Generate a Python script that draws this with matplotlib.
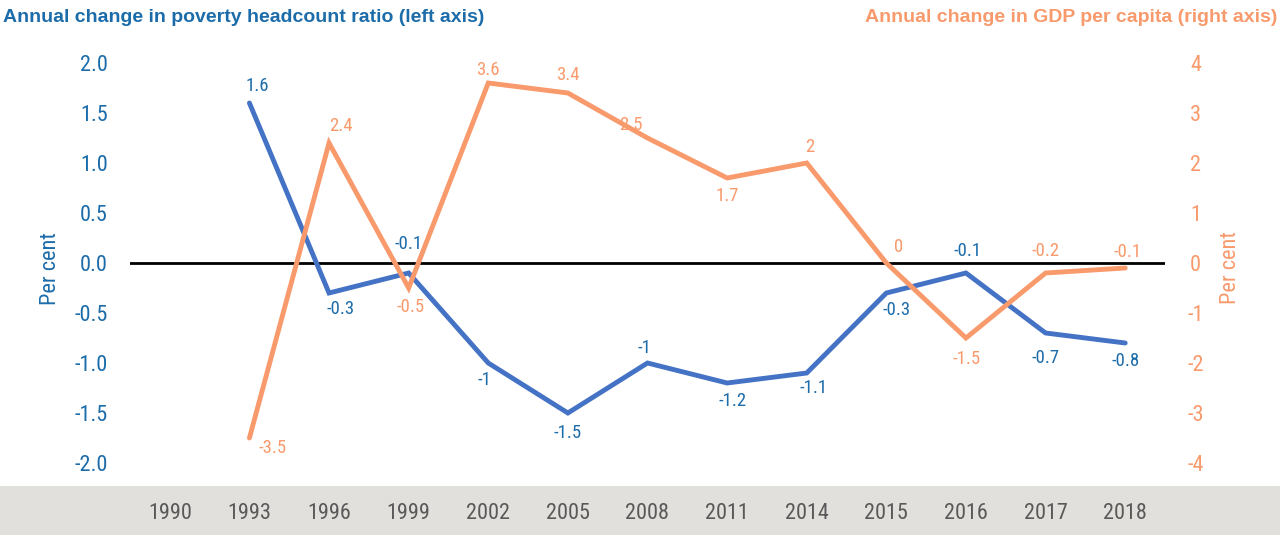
import matplotlib
matplotlib.use("Agg")
import matplotlib.pyplot as plt
from matplotlib.patches import Rectangle
from matplotlib import font_manager

years = ["1990", "1993", "1996", "1999", "2002", "2005", "2008", "2011", "2014", "2015", "2016", "2017", "2018"]
poverty = [None, 1.6, -0.3, -0.1, -1.0, -1.5, -1.0, -1.2, -1.1, -0.3, -0.1, -0.7, -0.8]
poverty_labels = ["", "1.6", "-0.3", "-0.1", "-1", "-1.5", "-1", "-1.2", "-1.1", "-0.3", "-0.1", "-0.7", "-0.8"]
gdp = [None, -3.5, 2.4, -0.5, 3.6, 3.4, 2.5, 1.7, 2.0, 0.0, -1.5, -0.2, -0.1]
gdp_labels = ["", "-3.5", "2.4", "-0.5", "3.6", "3.4", "2.5", "1.7", "2", "0", "-1.5", "-0.2", "-0.1"]
left_ticks = [-2.0, -1.5, -1.0, -0.5, 0.0, 0.5, 1.0, 1.5, 2.0]
right_ticks = [-4, -3, -2, -1, 0, 1, 2, 3, 4]

BLUE = "#4472C4"
BLUE_TXT = "#1C6CAA"
ORANGE = "#F89A6C"
ORANGE_TXT = "#F89A6C"
GREY_BG = "#E1E0DC"
GREY_TXT = "#595959"

available = {f.name for f in font_manager.fontManager.ttflist}
narrow_choice = "Liberation Sans"
for cand in ["Liberation Sans Narrow", "Arial Narrow", "Roboto Condensed", "Open Sans Condensed"]:
    if cand in available:
        narrow_choice = cand
        break
NARROW = [narrow_choice, "DejaVu Sans"]
BOLD = ["Liberation Sans", "DejaVu Sans"]
is_narrow = narrow_choice != "Liberation Sans"
TICK_FS = 16 if is_narrow else 14.5
LAB_FS = 13.5 if is_narrow else 12.5

W, H = 1280, 535
fig = plt.figure(figsize=(W / 100, H / 100), dpi=100)
fig.patches.append(Rectangle((0, 0), 1, 49 / H, transform=fig.transFigure,
                             facecolor=GREY_BG, edgecolor="none", zorder=-10))

ax = fig.add_axes([130 / W, (H - 463) / H, 1035 / W, 400 / H])
ax.set_facecolor("none")
ax2 = ax.twinx()
ax2.set_facecolor("none")

x = list(range(len(years)))
px = [i for i, v in zip(x, poverty) if v is not None]
pv = [v for v in poverty if v is not None]
gx = [i for i, v in zip(x, gdp) if v is not None]
gv = [v for v in gdp if v is not None]

ax.axhline(0, color="black", lw=2, zorder=1)
ax.plot(px, pv, color=BLUE, lw=3.5, zorder=3, clip_on=False,
        solid_joinstyle="miter", solid_capstyle="round")
ax2.plot(gx, gv, color=ORANGE, lw=3.5, zorder=3, clip_on=False,
         solid_joinstyle="miter", solid_capstyle="round")

ax.set_xlim(-0.5, len(years) - 0.5)
ax.set_ylim(-2, 2)
ax2.set_ylim(-4, 4)

for a in (ax, ax2):
    for s in a.spines.values():
        s.set_visible(False)

ax.set_xticks(x)
ax.set_xticklabels(years, fontfamily=NARROW, fontsize=TICK_FS, color=GREY_TXT)
ax.tick_params(axis="x", length=0, pad=29)
ax.set_yticks(left_ticks)
ax.set_yticklabels([f"{t:.1f}" for t in left_ticks], fontfamily=NARROW, fontsize=TICK_FS, color=BLUE_TXT)
ax.tick_params(axis="y", length=0, pad=16)
ax2.set_yticks(right_ticks)
ax2.set_yticklabels([str(t) for t in right_ticks], fontfamily=NARROW, fontsize=TICK_FS, color=ORANGE_TXT)
ax2.tick_params(axis="y", length=0, pad=22)
for lab in ax2.get_yticklabels():
    lab.set_ha("center")

fig.text(51 / W, 1 - 269 / H, "Per cent", rotation=90, ha="center", va="center",
         fontfamily=NARROW, fontsize=TICK_FS, color=BLUE_TXT)
fig.text(1231 / W, 1 - 268 / H, "Per cent", rotation=90, ha="center", va="center",
         fontfamily=NARROW, fontsize=TICK_FS, color=ORANGE_TXT)

# data labels: offsets in points (dx, dy)
p_off = [None, (6, 12), (8, -11.5), (0, 21), (-3, -12), (0, -14.5), (-2, 11), (4, -13), (5, -11),
         (7, -12), (1.5, 16), (0, -18), (0, -13)]
g_off = [None, (16.5, -7), (8.5, 12), (1.5, -13.5), (0, 9.5), (0, 13), (-12, 9.5), (0, -13), (2, 11.5),
         (8.5, 11.5), (0.5, -15), (0, 16), (1.5, 11.5)]
for i, (v, lab, off) in enumerate(zip(poverty, poverty_labels, p_off)):
    if v is None:
        continue
    ax.annotate(lab, (i, v), xytext=off, textcoords="offset points", ha="center", va="center",
                fontfamily=NARROW, fontsize=LAB_FS, color=BLUE_TXT, annotation_clip=False)
for i, (v, lab, off) in enumerate(zip(gdp, gdp_labels, g_off)):
    if v is None:
        continue
    ax2.annotate(lab, (i, v), xytext=off, textcoords="offset points", ha="center", va="center",
                 fontfamily=NARROW, fontsize=LAB_FS, color=ORANGE_TXT, annotation_clip=False)

fig.text(3 / W, 1 - 18 / H, "Annual change in poverty headcount ratio (left axis)", ha="left", va="center",
         fontfamily=BOLD, fontweight="bold", fontsize=14, color=BLUE_TXT)
fig.text(1277 / W, 1 - 18 / H, "Annual change in GDP per capita (right axis)", ha="right", va="center",
         fontfamily=BOLD, fontweight="bold", fontsize=14, color=ORANGE_TXT)

fig.savefig("out.png", dpi=100)
